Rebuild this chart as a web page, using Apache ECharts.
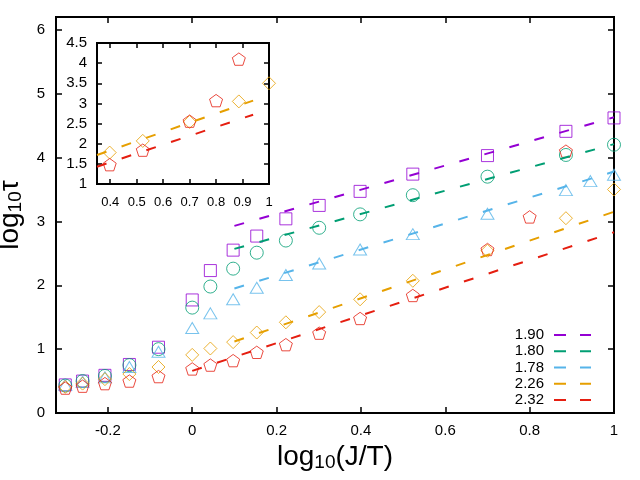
<!DOCTYPE html>
<html>
<head>
<meta charset="utf-8">
<script src="https://cdn.jsdelivr.net/npm/echarts@6/dist/echarts.min.js"></script>
<style>
html, body { margin: 0; padding: 0; background: #fff; }
#chart { width: 640px; height: 480px; }
</style>
</head>
<body>
<div id="chart"></div>
<script>
// log10(J/T) of the measured points
const xMain = [-0.301, -0.26, -0.207, -0.149, -0.08, 0, 0.043, 0.097, 0.153, 0.222, 0.301, 0.398, 0.523, 0.7, 0.886, 1.0];
const xBlue = [-0.301, -0.26, -0.207, -0.149, -0.08, 0, 0.043, 0.097, 0.153, 0.222, 0.301, 0.398, 0.523, 0.7, 0.886, 0.944, 1.0];
const xRed = [-0.301, -0.26, -0.207, -0.149, -0.08, 0, 0.043, 0.097, 0.153, 0.222, 0.301, 0.398, 0.523, 0.7, 0.8, 0.886];

// log10(tau)
const yPurple = [0.44, 0.50, 0.59, 0.76, 1.03, 1.77, 2.23, 2.55, 2.77, 3.04, 3.25, 3.47, 3.74, 4.03, 4.41, 4.62];
const yGreen = [0.43, 0.50, 0.58, 0.75, 1.00, 1.65, 1.98, 2.26, 2.51, 2.70, 2.90, 3.11, 3.41, 3.70, 4.04, 4.20];
const yBlue = [0.44, 0.49, 0.56, 0.72, 0.96, 1.33, 1.56, 1.78, 1.96, 2.16, 2.34, 2.56, 2.80, 3.12, 3.49, 3.63, 3.73];
const yOrange = [0.41, 0.46, 0.53, 0.61, 0.72, 0.91, 1.01, 1.11, 1.26, 1.42, 1.58, 1.78, 2.07, 2.54, 3.05, 3.50];
const yRed = [0.39, 0.42, 0.46, 0.50, 0.57, 0.69, 0.75, 0.82, 0.95, 1.07, 1.25, 1.48, 1.84, 2.56, 3.07, 4.10];

// fitted lines (start, end)
const slopes = ['1.90', '1.80', '1.78', '2.26', '2.32'];
const fitPurple = [[0.1, 2.93], [1, 4.63]];
const fitGreen = [[0.1, 2.57], [1, 4.21]];
const fitBlue = [[0.1, 1.95], [1, 3.78]];
const fitOrange = [[0.1, 1.12], [1, 3.15]];
const fitRed = [[0, 0.66], [1, 2.83]];
const insetFitOrange = [[0.35, 1.72], [0.94, 3.07]];
const insetFitRed = [[0.35, 1.43], [0.94, 2.72]];

const xTicks = [-0.2, 0, 0.2, 0.4, 0.6, 0.8, 1];
const yTicks = [0, 1, 2, 3, 4, 5, 6];
const xTicksInset = [0.4, 0.5, 0.6, 0.7, 0.8, 0.9, 1];
const yTicksInset = [1, 1.5, 2, 2.5, 3, 3.5, 4, 4.5];

const colors = ['#9400d3', '#009e73', '#56b4e9', '#e69f00', '#e51e10'];
const font = 'Liberation Sans';
const pentagon = 'path://M0,-1L0.951,-0.309L0.588,0.809L-0.588,0.809L-0.951,-0.309Z';

function pts(xs, ys) {
  return xs.map((x, i) => [x, ys[i]]);
}

function axis(gridIndex, pos, min, max, ticks, labels, fs, len, margin) {
  return {
    type: 'value', gridIndex: gridIndex, position: pos, min: min, max: max,
    axisLine: { show: false, onZero: false },
    splitLine: { show: false },
    axisTick: { show: true, inside: true, length: len, customValues: ticks, lineStyle: { color: '#000', width: 1.5 } },
    axisLabel: {
      show: labels, customValues: ticks, fontSize: fs, fontFamily: font, color: '#000',
      margin: margin, hideOverlap: false,
      formatter: v => String(+(+v).toFixed(2))
    }
  };
}

function fitLine(name, data, c, xi, yi) {
  return {
    name: name, type: 'line', data: data, xAxisIndex: xi, yAxisIndex: yi,
    symbol: 'none', silent: true, z: 3,
    itemStyle: { color: c },
    lineStyle: { color: c, width: 2, type: [10, 16] }
  };
}

function dots(name, data, c, sym, size, xi, yi) {
  return {
    name: name, type: 'scatter', data: data, xAxisIndex: xi, yAxisIndex: yi,
    symbol: sym, symbolSize: size, symbolKeepAspect: true, silent: true, z: 2,
    itemStyle: { color: 'rgba(0,0,0,0)', borderColor: c, borderWidth: 1 }
  };
}

const redInset = pts(xRed, yRed).filter(p => p[0] > 0.35);
const orangeInset = pts(xMain, yOrange).filter(p => p[0] > 0.35);

const nameRich = {
  t: { fontSize: 28, fontFamily: font, color: '#000' },
  s: { fontSize: 19, fontFamily: font, color: '#000', padding: [12, 0, 0, 0] }
};

const chart = echarts.init(document.getElementById('chart'));
chart.setOption({
  animation: false,
  backgroundColor: '#fff',
  grid: [
    { left: 56, right: 26, top: 17, bottom: 67, show: true, borderColor: '#000', borderWidth: 2,
      backgroundColor: 'transparent', outerBoundsMode: 'none' },
    { left: 97, top: 43, width: 172, height: 141, show: true, borderColor: '#000', borderWidth: 2,
      backgroundColor: '#fff', outerBoundsMode: 'none' }
  ],
  xAxis: [
    Object.assign(axis(0, 'bottom', -0.323, 1, xTicks, true, 15, 6, 10), {
      name: '{t|log}{s|10}{t|(J/T)}', nameLocation: 'middle', nameGap: 26,
      nameTextStyle: { rich: nameRich }
    }),
    axis(0, 'top', -0.323, 1, xTicks, false, 15, 6, 10),
    axis(1, 'bottom', 0.35, 1, xTicksInset, true, 13, 5, 12),
    axis(1, 'top', 0.35, 1, xTicksInset, false, 13, 5, 12)
  ],
  yAxis: [
    Object.assign(axis(0, 'left', 0, 6.2, yTicks, true, 15, 6, 11), {
      name: '{t|log}{s|10}{t|τ}', nameLocation: 'middle', nameGap: 22,
      nameTextStyle: { rich: nameRich }
    }),
    axis(0, 'right', 0, 6.2, yTicks, false, 15, 6, 11),
    axis(1, 'left', 1, 4.5, yTicksInset, true, 15, 5, 10),
    axis(1, 'right', 1, 4.5, yTicksInset, false, 15, 5, 10)
  ],
  legend: {
    orient: 'vertical', right: 49, top: 327, align: 'right', padding: 0,
    itemWidth: 37, itemHeight: 2, itemGap: 0,
    icon: 'path://M0,0h12v2h-12z M26,0h11v2h-11z',
    textStyle: { fontSize: 15, lineHeight: 16.2, fontFamily: font, color: '#000', padding: [0, 5, 0, 0] },
    data: slopes
  },
  series: [
    fitLine(slopes[0], fitPurple, colors[0], 0, 0),
    fitLine(slopes[1], fitGreen, colors[1], 0, 0),
    fitLine(slopes[2], fitBlue, colors[2], 0, 0),
    fitLine(slopes[3], fitOrange, colors[3], 0, 0),
    fitLine(slopes[4], fitRed, colors[4], 0, 0),
    dots(slopes[0], pts(xMain, yPurple), colors[0], 'rect', 12, 0, 0),
    dots(slopes[1], pts(xMain, yGreen), colors[1], 'circle', 13, 0, 0),
    dots(slopes[2], pts(xBlue, yBlue), colors[2], 'triangle', [13, 11], 0, 0),
    dots(slopes[3], pts(xMain, yOrange), colors[3], 'diamond', 13, 0, 0),
    dots(slopes[4], pts(xRed, yRed), colors[4], pentagon, 13, 0, 0),
    fitLine(slopes[3], insetFitOrange, colors[3], 2, 2),
    fitLine(slopes[4], insetFitRed, colors[4], 2, 2),
    dots(slopes[3], orangeInset, colors[3], 'diamond', 13, 2, 2),
    dots(slopes[4], redInset, colors[4], pentagon, 13, 2, 2)
  ]
});
</script>
</body>
</html>
